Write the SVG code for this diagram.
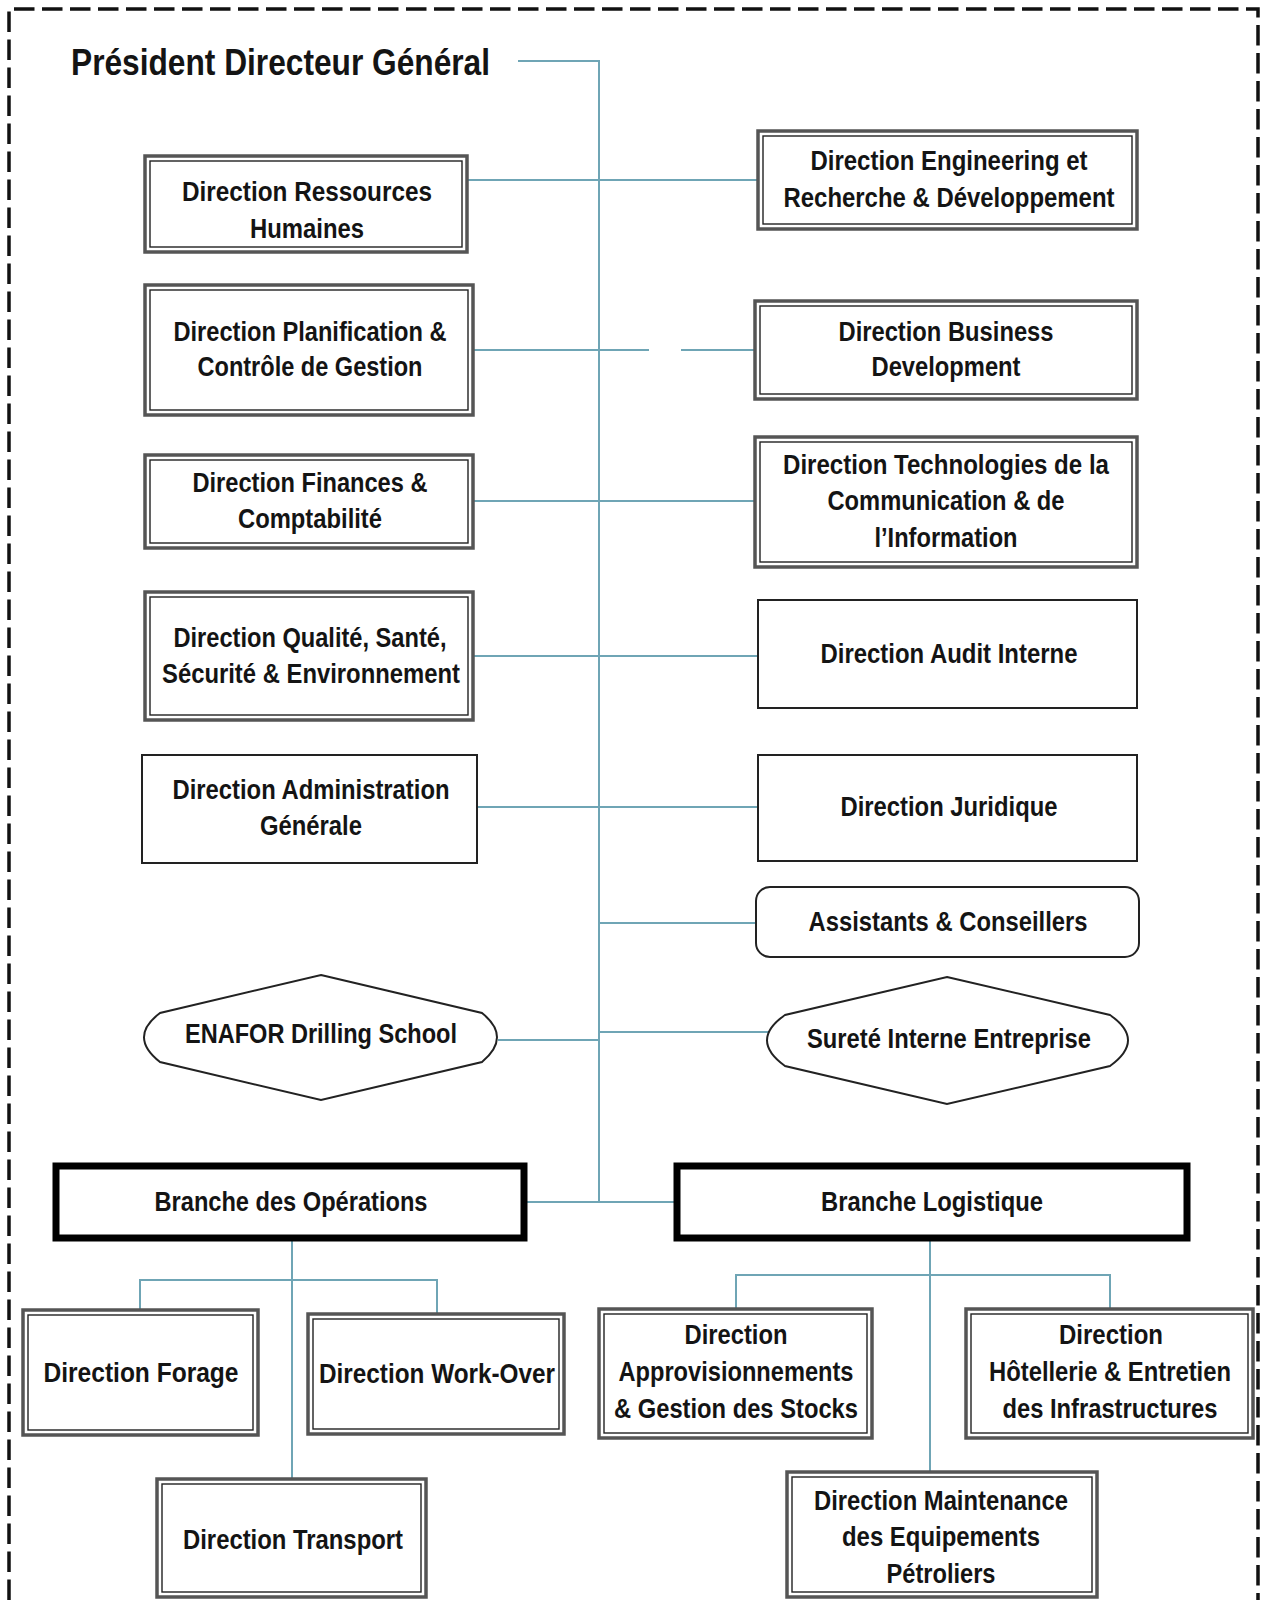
<svg xmlns="http://www.w3.org/2000/svg" width="1262" height="1600" viewBox="0 0 1262 1600">
  <style>
    .frame { fill: none; stroke: #111; stroke-width: 3.5; stroke-dasharray: 20.5 7.5; }
    .conn { fill: none; stroke: #6fa5b5; stroke-width: 2; }
    .dbl-o { fill: #fff; stroke: #555; stroke-width: 3.5; }
    .dbl-i { fill: none; stroke: #222; stroke-width: 1.4; }
    .single { fill: #fff; stroke: #222; stroke-width: 2; }
    .branch { fill: #fff; stroke: #000; stroke-width: 7; }
    .hex { fill: #fff; stroke: #222; stroke-width: 2; }
    .t { font-family: "Liberation Sans Narrow", "Liberation Sans", Arial, sans-serif; font-weight: bold; font-size: 27px; fill: #141414; text-anchor: middle; }
    .title { font-family: "Liberation Sans Narrow", "Liberation Sans", Arial, sans-serif; font-weight: bold; font-size: 37px; fill: #141414; }
  </style>

  <rect width="1262" height="1600" fill="#fff"/>
  <!-- page frame, open at the bottom -->
  <path class="frame" d="M9,1600 V9 H1258 V1600"/>

  <g id="pdg">
    <text class="title" x="71" y="75" textLength="419" lengthAdjust="spacingAndGlyphs">Président Directeur Général</text>
  </g>

  <!-- connectors -->
  <g id="connectors">
    <path class="conn" d="M518,61 H599 V1202"/>
    <path class="conn" d="M467,180 H758"/>
    <path class="conn" d="M473,350 H649 M681,350 H755"/>
    <path class="conn" d="M473,501 H755"/>
    <path class="conn" d="M473,656 H758"/>
    <path class="conn" d="M477,807 H758"/>
    <path class="conn" d="M599,923 H756"/>
    <path class="conn" d="M498,1040 H599"/>
    <path class="conn" d="M599,1032 H769"/>
    <path class="conn" d="M527,1202 H674"/>
    <!-- operations branch -->
    <path class="conn" d="M292,1241 V1479"/>
    <path class="conn" d="M140,1310 V1280 H437 V1314"/>
    <!-- logistics branch -->
    <path class="conn" d="M930,1241 V1472"/>
    <path class="conn" d="M736,1309 V1275 H1110 V1309"/>
  </g>

  <!-- left column -->
  <g id="drh">
    <rect class="dbl-o" x="145" y="156" width="322" height="96"/>
    <rect class="dbl-i" x="150" y="161" width="312" height="86"/>
    <text class="t" x="307" y="201" textLength="250" lengthAdjust="spacingAndGlyphs">Direction  Ressources</text>
    <text class="t" x="307" y="238" textLength="114" lengthAdjust="spacingAndGlyphs">Humaines</text>
  </g>
  <g id="planification">
    <rect class="dbl-o" x="145" y="285" width="328" height="130"/>
    <rect class="dbl-i" x="150" y="290" width="318" height="120"/>
    <text class="t" x="310" y="341" textLength="273" lengthAdjust="spacingAndGlyphs">Direction Planification &amp;</text>
    <text class="t" x="310" y="376" textLength="225" lengthAdjust="spacingAndGlyphs">Contrôle de Gestion</text>
  </g>
  <g id="finances">
    <rect class="dbl-o" x="145" y="455" width="328" height="93"/>
    <rect class="dbl-i" x="150" y="460" width="318" height="83"/>
    <text class="t" x="310" y="492" textLength="235" lengthAdjust="spacingAndGlyphs">Direction Finances &amp;</text>
    <text class="t" x="310" y="528" textLength="144" lengthAdjust="spacingAndGlyphs">Comptabilité</text>
  </g>
  <g id="qhse">
    <rect class="dbl-o" x="145" y="592" width="328" height="128"/>
    <rect class="dbl-i" x="150" y="597" width="318" height="118"/>
    <text class="t" x="310" y="647" textLength="273" lengthAdjust="spacingAndGlyphs">Direction Qualité, Santé,</text>
    <text class="t" x="311" y="683" textLength="298" lengthAdjust="spacingAndGlyphs">Sécurité &amp; Environnement</text>
  </g>
  <g id="administration">
    <rect class="single" x="142" y="755" width="335" height="108"/>
    <text class="t" x="311" y="799" textLength="277" lengthAdjust="spacingAndGlyphs">Direction Administration</text>
    <text class="t" x="311" y="835" textLength="102" lengthAdjust="spacingAndGlyphs">Générale</text>
  </g>

  <!-- right column -->
  <g id="engineering">
    <rect class="dbl-o" x="758" y="131" width="379" height="98"/>
    <rect class="dbl-i" x="763" y="136" width="369" height="88"/>
    <text class="t" x="949" y="170" textLength="277" lengthAdjust="spacingAndGlyphs">Direction Engineering et</text>
    <text class="t" x="949" y="207" textLength="331" lengthAdjust="spacingAndGlyphs">Recherche &amp; Développement</text>
  </g>
  <g id="business">
    <rect class="dbl-o" x="755" y="301" width="382" height="98"/>
    <rect class="dbl-i" x="760" y="306" width="372" height="88"/>
    <text class="t" x="946" y="341" textLength="215" lengthAdjust="spacingAndGlyphs">Direction Business</text>
    <text class="t" x="946" y="376" textLength="149" lengthAdjust="spacingAndGlyphs">Development</text>
  </g>
  <g id="tic">
    <rect class="dbl-o" x="755" y="437" width="382" height="130"/>
    <rect class="dbl-i" x="760" y="442" width="372" height="120"/>
    <text class="t" x="946" y="474" textLength="326" lengthAdjust="spacingAndGlyphs">Direction Technologies de la</text>
    <text class="t" x="946" y="510" textLength="237" lengthAdjust="spacingAndGlyphs">Communication &amp; de</text>
    <text class="t" x="946" y="547" textLength="143" lengthAdjust="spacingAndGlyphs">l’Information</text>
  </g>
  <g id="audit">
    <rect class="single" x="758" y="600" width="379" height="108"/>
    <text class="t" x="949" y="663" textLength="257" lengthAdjust="spacingAndGlyphs">Direction Audit Interne</text>
  </g>
  <g id="juridique">
    <rect class="single" x="758" y="755" width="379" height="106"/>
    <text class="t" x="949" y="816" textLength="217" lengthAdjust="spacingAndGlyphs">Direction Juridique</text>
  </g>
  <g id="assistants">
    <rect class="single" x="756" y="887" width="383" height="70" rx="14"/>
    <text class="t" x="948" y="931" textLength="279" lengthAdjust="spacingAndGlyphs">Assistants &amp; Conseillers</text>
  </g>

  <!-- attached entities -->
  <g id="enafor">
    <path class="hex" d="M321,975 L482,1013 Q512,1037 482,1062 L321,1100 L160,1062 Q128,1037 160,1013 Z"/>
    <text class="t" x="321" y="1043" textLength="272" lengthAdjust="spacingAndGlyphs">ENAFOR Drilling School</text>
  </g>
  <g id="surete">
    <path class="hex" d="M947,977 L1110,1015 Q1146,1040 1110,1066 L947,1104 L785,1066 Q749,1040 785,1015 Z"/>
    <text class="t" x="949" y="1048" textLength="284" lengthAdjust="spacingAndGlyphs">Sureté Interne Entreprise</text>
  </g>

  <!-- branches -->
  <g id="branche-operations">
    <rect class="branch" x="56" y="1166" width="468" height="72"/>
    <text class="t" x="291" y="1211" textLength="273" lengthAdjust="spacingAndGlyphs">Branche des Opérations</text>
  </g>
  <g id="branche-logistique">
    <rect class="branch" x="677" y="1166" width="510" height="72"/>
    <text class="t" x="932" y="1211" textLength="222" lengthAdjust="spacingAndGlyphs">Branche Logistique</text>
  </g>

  <!-- operations directions -->
  <g id="forage">
    <rect class="dbl-o" x="23" y="1310" width="235" height="125"/>
    <rect class="dbl-i" x="28" y="1315" width="225" height="115"/>
    <text class="t" x="141" y="1382" textLength="195" lengthAdjust="spacingAndGlyphs">Direction  Forage</text>
  </g>
  <g id="workover">
    <rect class="dbl-o" x="308" y="1314" width="256" height="120"/>
    <rect class="dbl-i" x="313" y="1319" width="246" height="110"/>
    <text class="t" x="437" y="1383" textLength="236" lengthAdjust="spacingAndGlyphs">Direction  Work-Over</text>
  </g>
  <g id="transport">
    <rect class="dbl-o" x="157" y="1479" width="269" height="118"/>
    <rect class="dbl-i" x="162" y="1484" width="259" height="108"/>
    <text class="t" x="293" y="1549" textLength="220" lengthAdjust="spacingAndGlyphs">Direction Transport</text>
  </g>

  <!-- logistics directions -->
  <g id="approvisionnements">
    <rect class="dbl-o" x="599" y="1309" width="273" height="129"/>
    <rect class="dbl-i" x="604" y="1314" width="263" height="119"/>
    <text class="t" x="736" y="1344" textLength="103" lengthAdjust="spacingAndGlyphs">Direction</text>
    <text class="t" x="736" y="1381" textLength="235" lengthAdjust="spacingAndGlyphs">Approvisionnements</text>
    <text class="t" x="736" y="1418" textLength="244" lengthAdjust="spacingAndGlyphs">&amp; Gestion des Stocks</text>
  </g>
  <g id="hotellerie">
    <rect class="dbl-o" x="966" y="1309" width="287" height="129"/>
    <rect class="dbl-i" x="971" y="1314" width="277" height="119"/>
    <text class="t" x="1111" y="1344" textLength="104" lengthAdjust="spacingAndGlyphs">Direction</text>
    <text class="t" x="1110" y="1381" textLength="242" lengthAdjust="spacingAndGlyphs">Hôtellerie &amp; Entretien</text>
    <text class="t" x="1110" y="1418" textLength="215" lengthAdjust="spacingAndGlyphs">des Infrastructures</text>
  </g>
  <g id="maintenance">
    <rect class="dbl-o" x="787" y="1472" width="310" height="125"/>
    <rect class="dbl-i" x="792" y="1477" width="300" height="115"/>
    <text class="t" x="941" y="1510" textLength="254" lengthAdjust="spacingAndGlyphs">Direction Maintenance</text>
    <text class="t" x="941" y="1546" textLength="198" lengthAdjust="spacingAndGlyphs">des Equipements</text>
    <text class="t" x="941" y="1583" textLength="109" lengthAdjust="spacingAndGlyphs">Pétroliers</text>
  </g>
</svg>
